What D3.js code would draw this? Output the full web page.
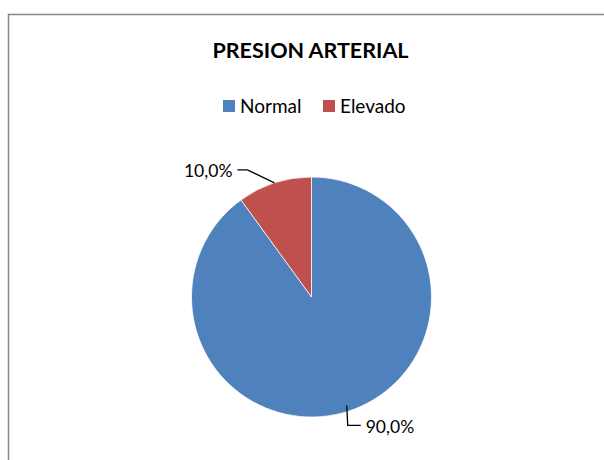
<html>
  <head>
    <meta charset="utf-8">
    <script src="https://d3js.org/d3.v7.min.js"></script>
    <style>
      body {
        margin: 0;
        font-family: Lato, "Open Sans", "DejaVu Sans", sans-serif;
        background: white;
      }
    </style>
  </head>
  <body>
    <div id="chart"></div>
  </body>

  <script>
    // data
    const categories = ["Normal", "Elevado"]
    const values = [90, 10]
    const colors = ["#4F81BD", "#C0504D"]
    const title = "PRESION ARTERIAL"

    const W = 604, H = 460
    const cx = 311.5, cy = 297, r = 120

    const svg = d3.select("#chart")
      .append("svg")
        .attr("width", W)
        .attr("height", H)

    // chart area border (runs past the right/bottom of the photo)
    svg.append("rect")
      .attr("x", 8.5)
      .attr("y", 14.5)
      .attr("width", 640)
      .attr("height", 500)
      .style("fill", "white")
      .style("stroke", "#868686")
      .style("stroke-width", 1.5)

    // title
    svg.append("text")
      .attr("x", 310.5)
      .attr("y", 58)
      .attr("text-anchor", "middle")
      .style("font-weight", "bold")
      .style("font-size", "21.5px")
      .text(title)

    // legend
    const legend = svg.append("g").attr("transform", "translate(223, 100)")
    const itemX = [0, 100]
    categories.forEach((c, i) => {
      const g = legend.append("g").attr("transform", `translate(${itemX[i]}, 0)`)
      g.append("rect")
        .attr("width", 12).attr("height", 12)
        .style("fill", colors[i])
      g.append("text")
        .attr("x", 17)
        .attr("y", 12.5)
        .style("font-size", "19px")
        .text(c)
    })

    // pie
    const pie = d3.pie().sort(null).value(d => d)
    const arcs = pie(values)
    const arc = d3.arc().innerRadius(0).outerRadius(r)

    const g = svg.append("g").attr("transform", `translate(${cx}, ${cy})`)

    g.selectAll("path")
      .data(arcs)
      .join("path")
        .attr("d", arc)
        .style("fill", (d, i) => colors[i])
        .style("stroke", "white")
        .style("stroke-width", 0.75)

    // data labels with leader lines
    const total = d3.sum(values)
    const fmt = v => d3.format(".1f")(v / total * 100).replace(".", ",") + "%"
    // leader bends: [dx1, dy1, dx2] relative to the point on the rim
    const bends = [[1, 20, 13], [-27, -13, -10]]

    arcs.forEach((a, i) => {
      const mid = (a.startAngle + a.endAngle) / 2
      const rr = i === 0 ? r - 6 : r
      const x0 = Math.sin(mid) * rr, y0 = -Math.cos(mid) * rr
      const [dx1, dy1, dx2] = bends[i]
      const x1 = x0 + dx1, y1 = y0 + dy1, x2 = x1 + dx2
      g.append("path")
        .attr("d", `M${x0},${y0}L${x1},${y1}L${x2},${y1}`)
        .style("fill", "none")
        .style("stroke", "black")
        .style("stroke-width", 1.3)
      g.append("text")
        .attr("x", x2 + (dx2 > 0 ? 5 : -5))
        .attr("y", y1 + 2)
        .attr("dy", "0.3em")
        .attr("text-anchor", dx2 > 0 ? "start" : "end")
        .style("font-size", "17.5px")
        .text(fmt(values[i]))
    })
  </script>
</html>
